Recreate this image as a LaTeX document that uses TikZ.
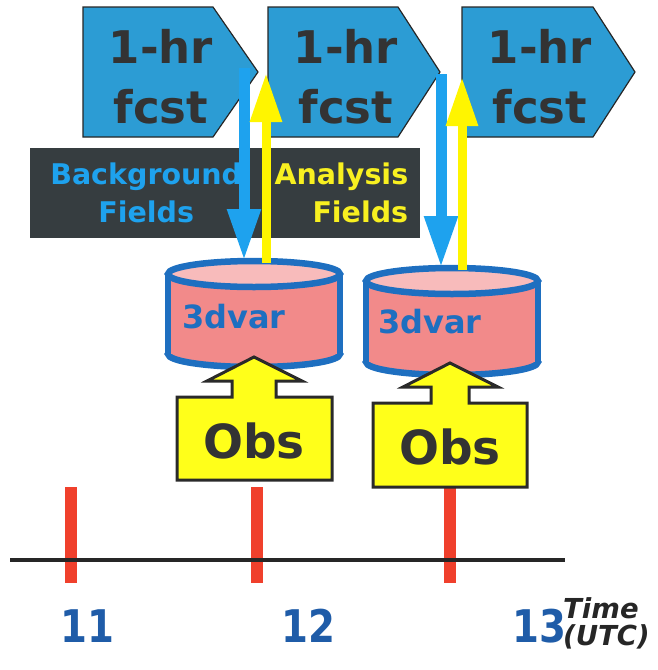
\documentclass[tikz,border=0pt]{standalone}
\usepackage{fontspec}
\setmainfont{DejaVu Sans}
\newfontfamily\hourfont{DejaVu Sans}[FakeStretch=0.86]
\usetikzlibrary{arrows.meta}

\definecolor{fcstblue}{HTML}{2C9CD4}
\definecolor{txtdark}{HTML}{333333}
\definecolor{panelgray}{HTML}{363D40}
\definecolor{bgblue}{HTML}{1EA2EE}
\definecolor{anyellow}{HTML}{F8F020}
\definecolor{arrowyellow}{HTML}{FFF500}
\definecolor{cylpink}{HTML}{F28A8A}
\definecolor{cyltop}{HTML}{F8BBBB}
\definecolor{cylblue}{HTML}{1E6FC0}
\definecolor{obsyellow}{HTML}{FFFF1A}
\definecolor{obsline}{HTML}{2A2A2A}
\definecolor{tickred}{HTML}{F0402C}
\definecolor{hourblue}{HTML}{1F5CA8}

\tikzset{
  fcstbody/.style={fill=fcstblue, draw=black!85, line width=1.2pt, line join=miter},
  fcsttext/.style={text=txtdark, font=\bfseries\fontsize{45}{60}\selectfont,
                   align=center, inner sep=0pt, anchor=north},
  panelbox/.style={fill=panelgray, draw=none, minimum height=90pt, inner ysep=0pt,
                   font=\bfseries\fontsize{28.5}{38}\selectfont, anchor=north west},
  bgarrow/.style={draw=bgblue, line width=11pt,
                  -{Triangle[width=31pt,length=52pt]}, color=bgblue},
  anarrow/.style={draw=arrowyellow, line width=9pt,
                  -{Triangle[width=30pt,length=49pt]}, color=arrowyellow},
  cylline/.style={draw=cylblue, line width=6.5pt},
  cyltext/.style={text=cylblue, font=\bfseries\fontsize{32}{36}\selectfont,
                  inner sep=0pt, anchor=base west},
  obsshape/.style={fill=obsyellow, draw=obsline, line width=3pt, line join=miter},
  obstext/.style={text=txtdark, font=\bfseries\fontsize{47}{50}\selectfont,
                  inner sep=0pt, anchor=base},
  tickmark/.style={draw=tickred, line width=12pt},
  axisline/.style={draw=black!85, line width=4pt},
  hourlabel/.style={text=hourblue, font=\hourfont\bfseries\fontsize{45}{48}\selectfont,
                    inner sep=0pt, anchor=base},
  timelabel/.style={text=black!85, font=\bfseries\itshape\fontsize{27.5}{27}\selectfont,
                    align=left, inner sep=0pt, anchor=north west}
}

\begin{document}
\begin{tikzpicture}[x=1pt,y=-1pt]
\useasboundingbox (0,0) rectangle (658,670);

% one-hour forecast blocks
\draw[fcstbody] (83,7) -- (213,7) -- (258,72) -- (213,137) -- (83,137) -- cycle;
\draw[fcstbody] (268,7) -- (398,7) -- (440,72) -- (398,137) -- (268,137) -- cycle;
\draw[fcstbody] (462,7) -- (593,7) -- (635,72) -- (593,137) -- (462,137) -- cycle;
\node[fcsttext] (f1) at (161,29) {1-hr\\fcst};
\node[fcsttext] (f2) at (346,29) {1-hr\\fcst};
\node[fcsttext] (f3) at (540,29) {1-hr\\fcst};

% field labels on the dark panel
\node[panelbox, text=bgblue, minimum width=232pt, inner xsep=0pt,
      text width=232pt, align=center] (bg) at (30,148) {Background\\Fields};
\node[panelbox, text=anyellow, minimum width=158pt, inner xsep=12pt,
      text width=134pt, align=right] (an) at (262,148) {Analysis\\Fields};

% anchor points of the exchange arrows
\coordinate (f1out) at (244,68);
\coordinate (c1in)  at (244,261);
\coordinate (c1out) at (266,263);
\coordinate (f2in)  at (266,73);
\coordinate (f2out) at (441,74);
\coordinate (c2in)  at (441,268);
\coordinate (c2out) at (462,270);
\coordinate (f3in)  at (462,77);

% red time ticks
\draw[tickmark] (71,487) -- (71,583);
\draw[tickmark] (257,487) -- (257,583);
\draw[tickmark] (450,487) -- (450,583);
\draw[axisline] (10,560) -- (565,560);

% 3dvar cylinders
\foreach \cx/\ty/\by in {254/274/354, 452/281/362}{
  \filldraw[cylline, fill=cylpink] (\cx,\by) ellipse [x radius=86, y radius=13];
  \fill[cylpink] (\cx-86,\ty) rectangle (\cx+86,\by);
  \draw[cylline] (\cx-86,\ty) -- (\cx-86,\by);
  \draw[cylline] (\cx+86,\ty) -- (\cx+86,\by);
  \filldraw[cylline, fill=cyltop] (\cx,\ty) ellipse [x radius=86, y radius=13];
}
\node[cyltext] (v1) at (182,328) {3dvar};
\node[cyltext] (v2) at (378,333) {3dvar};

% background down, analysis up
\draw[bgarrow] (f1out) -- (c1in);
\draw[anarrow] (c1out) -- (f2in);
\draw[bgarrow] (f2out) -- (c2in);
\draw[anarrow] (c2out) -- (f3in);

% observation inputs
\draw[obsshape] (254,357) -- (302,381) -- (276,381) -- (276,397) -- (332,397)
  -- (332,480) -- (177,480) -- (177,397) -- (232,397) -- (232,381) -- (207,381) -- cycle;
\draw[obsshape] (450,363) -- (498,387) -- (469,387) -- (469,403) -- (527,403)
  -- (527,487) -- (373,487) -- (373,403) -- (431,403) -- (431,387) -- (403,387) -- cycle;
\node[obstext] (o1) at (254,458) {Obs};
\node[obstext] (o2) at (450,464) {Obs};

% hour labels
\node[hourlabel] (h11) at (87,642) {11};
\node[hourlabel] (h12) at (308,642) {12};
\node[hourlabel] (h13) at (539,642) {13};
\node[timelabel] (tl) at (563,597) {Time\\(UTC)};
\end{tikzpicture}
\end{document}
